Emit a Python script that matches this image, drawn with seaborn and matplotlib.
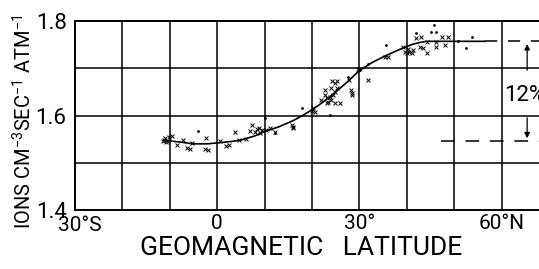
import numpy as np
import pandas as pd
import matplotlib
matplotlib.use("Agg")
import matplotlib.pyplot as plt
import matplotlib.transforms as mtransforms
import seaborn as sns

# ---- data ----
curve_lat = [-10.8, -8, -5, -2, 0, 3, 5, 8, 10, 13, 16, 18, 20, 22, 24.4, 27, 30,
             32.5, 35, 37, 39, 41.3, 43, 44.2, 56.5]
curve_val = [1.547, 1.544, 1.540, 1.540, 1.542, 1.545, 1.548, 1.557, 1.566, 1.576,
             1.589, 1.600, 1.612, 1.626, 1.645, 1.667, 1.695, 1.711, 1.724, 1.733,
             1.742, 1.751, 1.755, 1.757, 1.757]

cross_lat = [-11.2, -10.8, -11.0, -10.5, -11.5, -10.2, -9.6, -8.5, -7.2, -6.4, -5.8,
             -5.4, -2.4, -2.6, -2.0, 0.6, 1.8, 2.5, 3.8, 4.5, 6.0, 6.9, 7.3, 8.0, 8.5,
             9.0, 9.5, 8.8, 10.4, 11.1, 12.2, 16.0, 15.7, 16.1, 20.2, 20.6, 19.9, 22.0,
             22.7, 23.1, 23.4, 23.8, 24.1, 24.5, 24.9, 25.2, 24.3, 24.9, 25.3, 25.9,
             24.9, 22.7, 24.1, 23.1, 28.2, 28.4, 31.9, 29.8, 27.9, 28.4, 35.4, 36.1,
             39.3, 39.6, 40.0, 40.5, 41.0, 41.4, 40.3, 42.0, 43.1, 42.8, 43.5, 44.2,
             44.2, 46.2, 46.2, 48.1, 48.8, 47.4]
cross_val = [1.548, 1.543, 1.552, 1.546, 1.545, 1.555, 1.557, 1.538, 1.548, 1.531, 1.530,
             1.541, 1.552, 1.530, 1.528, 1.546, 1.536, 1.537, 1.565, 1.548, 1.550, 1.567,
             1.580, 1.566, 1.572, 1.563, 1.570, 1.574, 1.569, 1.573, 1.566, 1.576, 1.580,
             1.573, 1.616, 1.608, 1.610, 1.633, 1.643, 1.636, 1.629, 1.640, 1.633, 1.643,
             1.650, 1.658, 1.672, 1.668, 1.672, 1.626, 1.626, 1.654, 1.658, 1.626, 1.654,
             1.647, 1.675, 1.698, 1.675, 1.643, 1.724, 1.723, 1.746, 1.735, 1.732, 1.735,
             1.732, 1.739, 1.740, 1.763, 1.767, 1.746, 1.742, 1.756, 1.732, 1.756, 1.746,
             1.749, 1.767, 1.767]

dot_lat = [-4.0, 10.1, 12.2, 17.8, 23.8, 27.6, 30.1, 31.9, 35.6, 42.0, 45.2, 46.2, 45.7,
           50.9, 53.7, 52.6]
dot_val = [1.568, 1.594, 1.563, 1.615, 1.601, 1.682, 1.696, 1.710, 1.749, 1.774, 1.777,
           1.777, 1.792, 1.758, 1.767, 1.742]

upper_level = 1.757
lower_level = 1.546
dash_start_upper = 56.5
dash_start_lower = 47.3
x_ticks = [-30, 0, 30, 60]
x_ticklabels = ["30°S", "0", "30°", "60°N"]
y_ticks = [1.4, 1.6, 1.8]
y_ticklabels = ["1.4", "1.6", "1.8"]

sns.set_theme(style="white")
fam = ["Roboto", "DejaVu Sans"]
plt.rcParams["font.family"] = fam
plt.rcParams["font.weight"] = "normal"
plt.rcParams["text.color"] = "black"
plt.rcParams["mathtext.fontset"] = "custom"
plt.rcParams["mathtext.rm"] = "Roboto"
plt.rcParams["mathtext.it"] = "Roboto"

W, H = 539, 269
fig = plt.figure(figsize=(W / 100, H / 100), dpi=100)
ax = fig.add_axes([75 / W, (H - 210) / H, 1 - 75 / W, (210 - 21) / H])
xmax = 67.9
ax.set_xlim(-30, xmax)
ax.set_ylim(1.4, 1.8)

# grid
for gx in np.arange(-20, 61, 10):
    ax.axvline(gx, color="black", lw=1.1, zorder=1)
for gy in [1.5, 1.6, 1.7]:
    ax.axhline(gy, color="black", lw=1.1, zorder=1)

for s in ["left", "top", "bottom"]:
    ax.spines[s].set_color("black")
    ax.spines[s].set_linewidth(1.4)
ax.spines["right"].set_visible(False)

curve = pd.DataFrame({"lat": curve_lat, "val": curve_val})
sns.lineplot(data=curve, x="lat", y="val", ax=ax, color="black", lw=1.2, sort=True,
             zorder=3)
crosses = pd.DataFrame({"lat": cross_lat, "val": cross_val})
sns.scatterplot(data=crosses, x="lat", y="val", ax=ax, marker="x", s=8,
                color="black", linewidth=0.7, zorder=4)
dots = pd.DataFrame({"lat": dot_lat, "val": dot_val})
sns.scatterplot(data=dots, x="lat", y="val", ax=ax, marker="o", s=4,
                color="black", linewidth=0, zorder=4)

ax.plot([dash_start_upper, xmax], [upper_level, upper_level], color="black", lw=1.1,
        dashes=(8, 7), zorder=3)
ax.plot([dash_start_lower, xmax], [lower_level, lower_level], color="black", lw=1.1,
        dashes=(9, 7), zorder=3)

# 12% annotation
arr_x = 65.4
ax.annotate("", xy=(arr_x, upper_level), xytext=(arr_x, 1.69),
            arrowprops=dict(arrowstyle="-|>", color="black", lw=0.9, mutation_scale=8))
ax.annotate("", xy=(arr_x, lower_level), xytext=(arr_x, 1.601),
            arrowprops=dict(arrowstyle="-|>", color="black", lw=0.9, mutation_scale=8))
ax.text(60.5, 1.643, "12%", fontsize=16, va="center", ha="left", color="black",
        clip_on=False)

ax.set_xticks(x_ticks)
ax.set_xticklabels(x_ticklabels, fontsize=15)
ax.set_yticks(y_ticks)
ax.set_yticklabels(y_ticklabels, fontsize=16)
ax.tick_params(length=0, pad=3, colors="black")
ax.tick_params(axis="y", pad=6)
# nudge first x tick label slightly right/down like the reference
lbl0 = ax.get_xticklabels()[0]
lbl0.set_transform(lbl0.get_transform() +
                   mtransforms.ScaledTranslation(5 / 100, -2 / 100, fig.dpi_scale_trans))
ax.set_xlabel("")
ax.set_ylabel("")
fig.text(24 / W, 1 - 122 / H, r"IONS CM$^{-3}$SEC$^{-1}$ ATM$^{-1}$", rotation=90,
         ha="center", va="center", fontsize=14.5, color="black")
fig.text(301 / W, 1 - 248 / H, "GEOMAGNETIC   LATITUDE", ha="center", va="center",
         fontsize=19, color="black")

fig.savefig("out.png", dpi=100)
